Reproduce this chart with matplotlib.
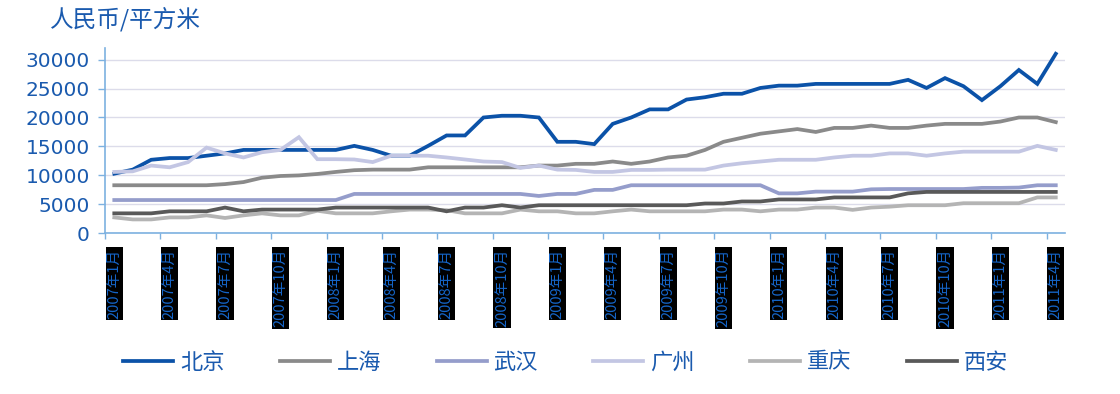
import numpy as np
import matplotlib
matplotlib.use("Agg")
import matplotlib.pyplot as plt

plt.rcParams['font.family'] = ['Noto Sans CJK SC', 'DejaVu Sans']

villes = ["北京", "上海", "武汉", "广州", "重庆", "西安"]

# prix moyens mensuels, janvier 2007 -> avril 2011
beijing = [10300, 11000, 12700, 13000, 13000, 13400, 13800, 14400, 14400, 14400,
           14400, 14400, 14400, 15100, 14400, 13400, 13400, 15100, 16900, 16900,
           20000, 20300, 20300, 20000, 15800, 15800, 15400, 18900, 20000, 21400,
           21400, 23100, 23500, 24100, 24100, 25100, 25500, 25500, 25800, 25800,
           25800, 25800, 25800, 26500, 25100, 26800, 25400, 23000, 25400, 28200,
           25800, 31000]
shanghai = [8300, 8300, 8300, 8300, 8300, 8300, 8500, 8850, 9600, 9900,
            10000, 10250, 10600, 10900, 11000, 11000, 11000, 11400, 11400, 11400,
            11400, 11400, 11400, 11700, 11700, 12000, 12000, 12400, 12000, 12400,
            13100, 13400, 14400, 15800, 16500, 17200, 17600, 18000, 17500, 18200,
            18200, 18600, 18200, 18200, 18600, 18900, 18900, 18900, 19300, 20000,
            20000, 19200]
wuhan = [5750, 5750, 5750, 5750, 5750, 5750, 5750, 5750, 5750, 5750,
         5750, 5750, 5750, 6800, 6800, 6800, 6800, 6800, 6800, 6800,
         6800, 6800, 6800, 6450, 6800, 6800, 7500, 7500, 8300, 8300,
         8300, 8300, 8300, 8300, 8300, 8300, 6900, 6900, 7200, 7200,
         7200, 7600, 7650, 7650, 7650, 7650, 7650, 7850, 7850, 7900,
         8300, 8300]
guangzhou = [10600, 10700, 11700, 11400, 12300, 14800, 13800, 13100, 14000, 14400,
             16600, 12800, 12800, 12750, 12300, 13400, 13400, 13400, 13100, 12750,
             12400, 12300, 11300, 11700, 11000, 10950, 10600, 10600, 10950, 10950,
             11000, 11000, 11000, 11700, 12100, 12400, 12700, 12700, 12700, 13100,
             13400, 13400, 13800, 13800, 13400, 13800, 14100, 14100, 14100, 14100,
             15100, 14400]
chongqing = [2750, 2400, 2400, 2750, 2750, 3100, 2650, 3100, 3450, 3100,
             3100, 3900, 3450, 3450, 3450, 3800, 4100, 4100, 4000, 3450,
             3450, 3450, 4100, 3800, 3800, 3450, 3450, 3800, 4100, 3800,
             3800, 3800, 3800, 4100, 4100, 3800, 4100, 4100, 4450, 4450,
             4050, 4450, 4600, 4850, 4850, 4850, 5200, 5200, 5200, 5200,
             6200, 6200]
xian = [3450, 3450, 3450, 3800, 3800, 3800, 4450, 3800, 4100, 4100,
        4100, 4100, 4450, 4450, 4450, 4450, 4450, 4450, 3800, 4450,
        4450, 4850, 4450, 4850, 4850, 4850, 4850, 4850, 4850, 4850,
        4850, 4850, 5150, 5150, 5500, 5500, 5850, 5850, 5850, 6200,
        6200, 6200, 6200, 6900, 7150, 7150, 7150, 7150, 7150, 7150,
        7150, 7150]

etiquettes = ["2007年1月", "2007年4月", "2007年7月", "2007年10月",
              "2008年1月", "2008年4月", "2008年7月", "2008年10月",
              "2009年1月", "2009年4月", "2009年7月", "2009年10月",
              "2010年1月", "2010年4月", "2010年7月", "2010年10月",
              "2011年1月", "2011年4月"]

couleurs = ["#0B52A8", "#8A8A8A", "#959DCB", "#C3C6E3", "#B4B4B4", "#595959"]
bleu = "#1A5AAE"
axe = "#7DB1E0"

fig = plt.figure(figsize=(11.2, 3.94), dpi=100)
ax = fig.add_axes([0.0938, 0.4078, 0.8571, 0.4704])

#trace les courbes
x = np.arange(len(beijing))
for serie, nom, c in zip([beijing, shanghai, wuhan, guangzhou, chongqing, xian], villes, couleurs):
    ax.plot(x, serie, color=c, lw=2.7, label=nom, solid_joinstyle='miter')

ax.set_xlim(-0.5, len(x) - 0.5)
ax.set_ylim(0, 32000)
ax.set_yticks(np.arange(0, 30001, 5000))
ax.grid(axis='y', color='#DCDCEA', lw=1)
ax.set_axisbelow(True)

for s in ['top', 'right']:
    ax.spines[s].set_visible(False)
for s in ['left', 'bottom']:
    ax.spines[s].set_color(axe)
    ax.spines[s].set_linewidth(1.2)

ax.tick_params(axis='y', colors=axe, length=5, width=1, labelsize=14.5,
               labelcolor=bleu, pad=6)
for lbl in ax.get_yticklabels():
    lbl.set_family('DejaVu Sans')

# graduations entre les mois, etiquettes au centre du mois
ax.set_xticks(np.arange(-0.5, len(x) - 1, 3))
ax.set_xticklabels([])
ax.tick_params(axis='x', which='major', colors=axe, length=4, width=1)
ax.set_xticks(x[::3], minor=True)
ax.set_xticklabels(etiquettes, minor=True, rotation=90, fontsize=10.5,
                   color="#1565C8", va='top', ha='center')
ax.tick_params(axis='x', which='minor', length=0, pad=11)
for lbl in ax.get_xticklabels(minor=True):
    lbl.set_bbox(dict(facecolor='black', edgecolor='none', pad=1.2))

fig.text(0.0446, 0.952, "人民币/平方米", fontsize=17, color=bleu, va='center')

fig.legend(loc='center', bbox_to_anchor=(0.505, 0.081), ncol=6, frameon=False,
           fontsize=16, handlelength=2.25, handletextpad=0.3, columnspacing=2.5,
           labelcolor=bleu)

plt.savefig("out.png", dpi=100)
